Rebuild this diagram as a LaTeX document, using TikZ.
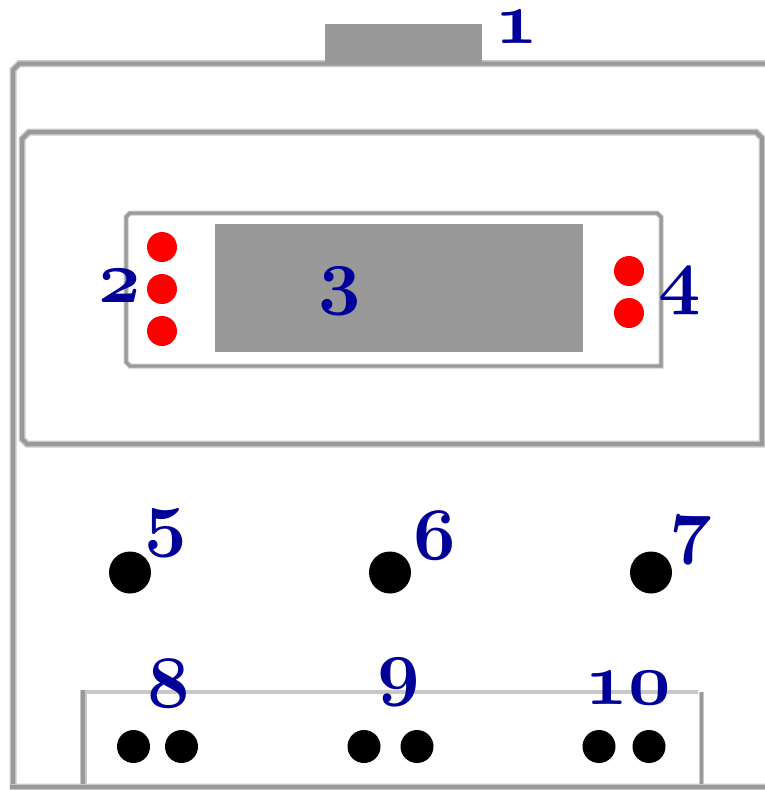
\documentclass[tikz,border=0pt]{standalone}
\definecolor{lgray}{HTML}{C8C8C8}
\definecolor{dgray}{HTML}{999999}
\definecolor{navy}{HTML}{000099}
\font\osfont=cmmib10 at 74pt
\newcommand\osdig[1]{{\osfont #1}}
\begin{document}
\begin{tikzpicture}[x=1pt,y=-1pt,
  wall/.style={draw=lgray,double=dgray,double distance=4pt,line width=1.5pt},
  thinwall/.style={draw=lgray,double=dgray,double distance=3pt,line width=1pt},
  block/.style={fill=dgray,inner sep=0pt,draw=none},
  reddot/.style={circle,fill=red,inner sep=0pt,minimum size=30pt},
  bigdot/.style={circle,fill=black,inner sep=0pt,minimum size=42pt},
  smalldot/.style={circle,fill=black,inner sep=0pt,minimum size=33pt},
  lbl/.style={text=navy,inner sep=0pt}]
\useasboundingbox (0,0) rectangle (765,790);
% outer case
\draw[wall] (13,787) -- (13,70) -- (19.5,63.5) -- (780,63.5) -- (780,787) -- cycle;
% button 1
\node[block,minimum width=157pt,minimum height=39pt] (button) at (403.5,43.5) {};
% inner panel
\draw[wall] (22,139) -- (29,132) -- (756,132) -- (762,138) -- (762,444) -- (27,444) -- (22,439) -- cycle;
% display frame
\draw[thinwall] (126,217) -- (130,213) -- (657,213) -- (661,217) -- (661,366) -- (130,366) -- (126,362) -- cycle;
% screen
\node[block,minimum width=368pt,minimum height=128pt] (screen) at (399,288) {};
% bottom frame
\draw[lgray,line width=4pt] (85,692) -- (698,692);
\draw[wall] (83,690) -- (83,787);
\draw[draw=lgray,double=dgray,double distance=3pt,line width=1pt] (701.5,692) -- (701.5,787);
\draw[wall] (10,787) -- (780,787);
% red dots
\node[reddot] (r1) at (162,247) {};
\node[reddot] (r2) at (162,289) {};
\node[reddot] (r3) at (162,331) {};
\node[reddot] (r4) at (629,271) {};
\node[reddot] (r5) at (629,313) {};
% big black dots
\node[bigdot] (b5) at (130,572.5) {};
\node[bigdot] (b6) at (390,572.5) {};
\node[bigdot] (b7) at (651,572.5) {};
% small black dots
\node[smalldot] (s1) at (133.5,746.5) {};
\node[smalldot] (s2) at (181.5,746.5) {};
\node[smalldot] (s3) at (364,746.5) {};
\node[smalldot] (s4) at (417,746.5) {};
\node[smalldot] (s5) at (599,746.5) {};
\node[smalldot] (s6) at (649,746.5) {};
% labels
\node[lbl] (l1) at (516.5,27.5) {\osdig{1}};
\node[lbl] (l2) at (120,286.5) {\osdig{2}};
\node[lbl] (l3) at (339.5,291.5) {\osdig{3}};
\node[lbl] (l4) at (680,291.5) {\osdig{4}};
\node[lbl] (l5) at (166,533.5) {\osdig{5}};
\node[lbl] (l6) at (435,536) {\osdig{6}};
\node[lbl] (l7) at (691,540) {\osdig{7}};
\node[lbl] (l8) at (168.5,684) {\osdig{8}};
\node[lbl] (l9) at (399,682.5) {\osdig{9}};
\node[lbl] (l10) at (628,688) {\osdig{10}};
\end{tikzpicture}
\end{document}
